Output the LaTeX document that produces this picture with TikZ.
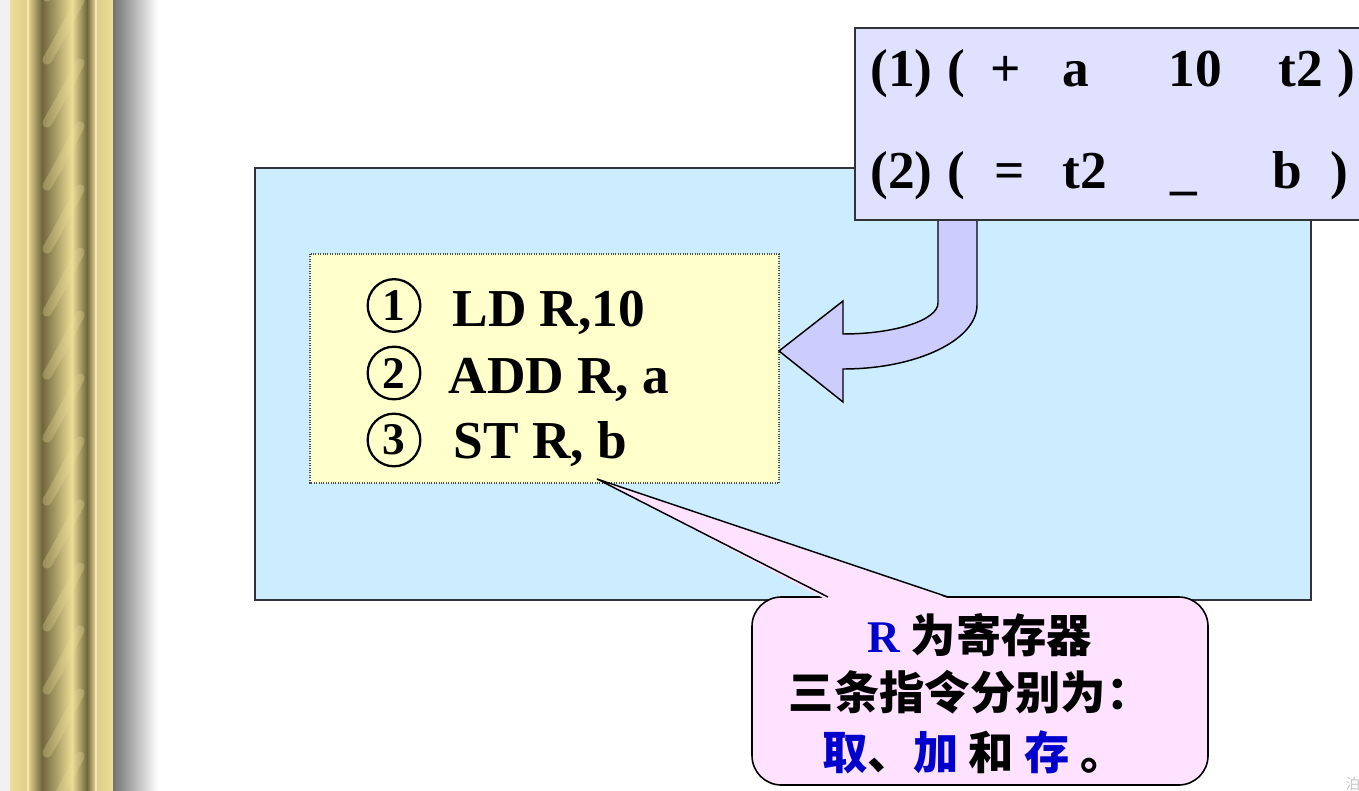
\documentclass[tikz,border=0pt]{standalone}
\usepackage{fontspec}
\setmainfont{Liberation Serif}
\newfontfamily\cjk{Noto Sans CJK SC}
\definecolor{gold}{RGB}{222,206,138}
\definecolor{goldlt}{RGB}{236,222,150}
\definecolor{olive}{RGB}{112,102,62}
\definecolor{skyfill}{RGB}{204,236,255}
\definecolor{lilac}{RGB}{224,224,255}
\definecolor{arrowfill}{RGB}{204,204,255}
\definecolor{lemon}{RGB}{255,255,204}
\definecolor{pinkfill}{RGB}{255,226,255}
\definecolor{txtblue}{RGB}{0,0,204}
\definecolor{edge}{RGB}{50,50,58}

\tikzset{every picture/.style={line width=0.75pt}}
\tikzset{
  quad/.style={anchor=base west, inner sep=0pt, font=\fontsize{40}{48}\selectfont\bfseries},
  num/.style={circle, draw, line width=1.7pt, inner sep=0pt, minimum size=39.5pt, font=\fontsize{34}{40}\selectfont\bfseries},
  noteline/.style={anchor=base, inner sep=0pt, font=\fontsize{34}{40}\selectfont\bfseries\cjk},
}
\newcommand{\hl}[1]{{\color{txtblue}#1}}

\begin{document}
\begin{tikzpicture}[x=0.75pt,y=0.75pt,yscale=-1]
\useasboundingbox (0,0) rectangle (1359,791);

%Shape: Column [left border]
\fill [gray!12] (0,0) rectangle (10,791);
\fill [gold] (10,0) rectangle (113,791);
\shade [left color=goldlt, right color=gold] (10,0) rectangle (27,791);
\fill [goldlt!70!white] (27,0) rectangle (29,791);
\shade [left color=gold, right color=olive] (29,0) rectangle (42,791);
\shade [left color=olive, right color=goldlt] (42,0) rectangle (72,791);
\shade [left color=goldlt, right color=olive] (72,0) rectangle (87,791);
\shade [left color=olive, right color=gold] (87,0) rectangle (95,791);
\fill [goldlt!70!white] (95,0) rectangle (97,791);
\shade [left color=gold, right color=goldlt] (97,0) rectangle (113,791);
\begin{scope}
\clip (42,0) rectangle (85,791);
\foreach \y in {-63,0,...,820}
  \draw [goldlt, opacity=0.3, line width=7pt, line cap=round] (47,\y+60) .. controls (60,\y+38) and (72,\y+15) .. (80,\y);
\end{scope}
%Shape: Shadow
\shade [left color=black!55, right color=white] (113,0) rectangle (158,791);

%Shape: Rectangle [blue panel]
\draw [draw=edge, fill=skyfill, line width=1.5pt] (255,168) rectangle (1311,600);
%Shape: Rectangle [code box]
\draw [draw=black!70, fill=lemon, densely dotted, line width=0.8pt] (310,254) rectangle (779,483);

%Shape: Curved block arrow
\draw [fill=arrowfill, line width=1.1pt, line join=miter] (938,219) -- (938,303) .. controls (938,320) and (895,334) .. (843,334) -- (843,301) -- (779,351) -- (843,402) -- (843,369) .. controls (917,369) and (977,340) .. (977,305) -- (977,219) ;

%Shape: Rectangle [quadruples]
\draw [draw=edge, fill=lilac, line width=1.5pt] (855,28) rectangle (1366,220);

% Text Node
\node (q1a) [quad] at (870,87) {(1)};
\node (q1b) [quad] at (947,87) {(};
\node (q1c) [quad] at (990,87) {+};
\node (q1d) [quad] at (1062,87) {a};
\node (q1e) [quad] at (1168,87) {10};
\node (q1f) [quad] at (1278,87) {t2};
\node (q1g) [quad] at (1337,87) {)};
% Text Node
\node (q2a) [quad] at (870,189) {(2)};
\node (q2b) [quad] at (947,189) {(};
\node (q2c) [quad] at (994,189) {=};
\node (q2d) [quad] at (1062,189) {t2};
\node (q2e) [quad] at (1170,189) {\_};
\node (q2f) [quad] at (1272,189) {b};
\node (q2g) [quad] at (1330,189) {)};

% Text Node
\node (n1) [num] at (394,305.5) {1};
\node (n2) [num] at (394,373) {2};
\node (n3) [num] at (394,440) {3};
\node (i1) [quad] at (452,327) {LD R,10};
\node (i2) [quad] at (448,393) {ADD R, a};
\node (i3) [quad] at (453,458) {ST R, b};

%Shape: Callout
\coordinate (tip) at (597,479);
\draw [fill=pinkfill, line width=1.2pt, rounded corners=22pt] (752,597) rectangle (1208,785);
\fill [pinkfill] (826,599.5) -- (tip) -- (952,599.5) -- cycle;
\draw [line width=1.1pt] (828,597) -- (tip) -- (948,597);

% Text Node
\node (r1) [noteline] at (980,652) {\hl{\rmfamily R} 为寄存器};
\node (r2) [noteline] at (970,709) {三条指令分别为：};
\node (r3) [noteline] at (974,769) {\hl{取}、\hl{加} 和 \hl{存} 。};

% Text Node
\node (mark) [anchor=north west, inner sep=0pt, text=gray!45, font=\fontsize{11}{12}\selectfont\cjk] at (1345,777) {泊};

\end{tikzpicture}
\end{document}
